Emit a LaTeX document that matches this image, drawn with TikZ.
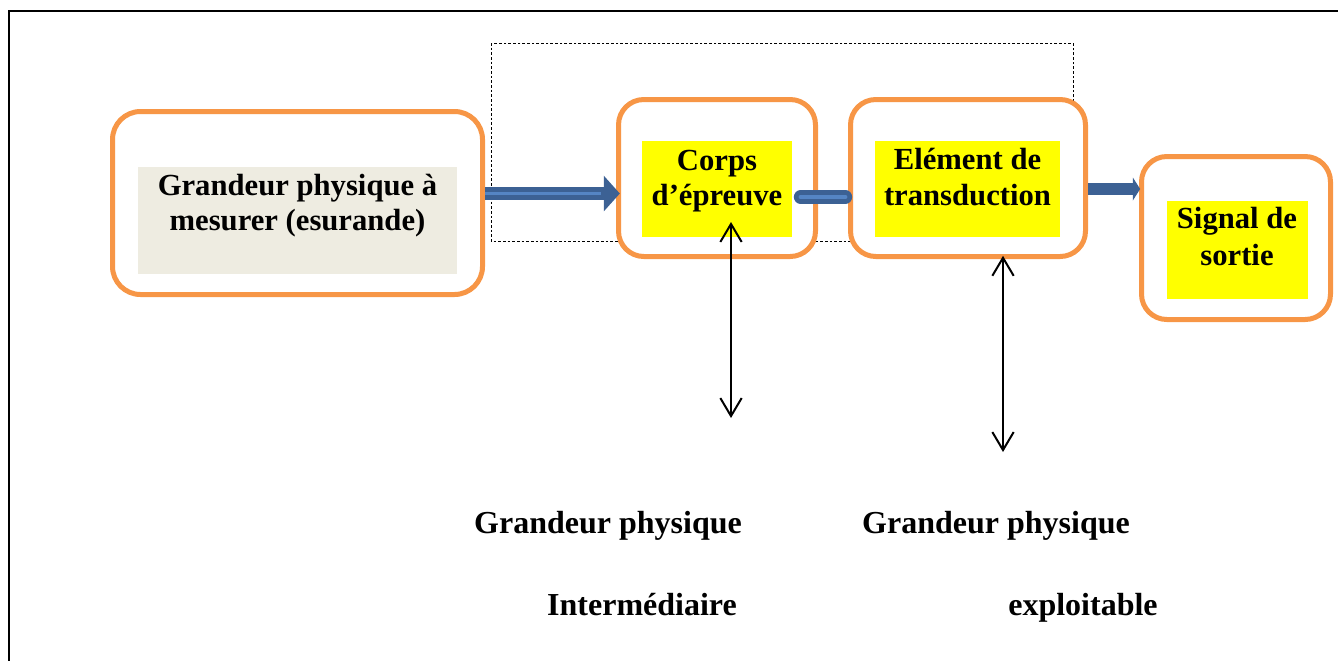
\documentclass[tikz,border=0pt]{standalone}
\usepackage{fontspec}
\setmainfont{Liberation Serif}
\usetikzlibrary{arrows.meta}
\definecolor{boxorange}{HTML}{F79646}
\definecolor{beigefill}{HTML}{EEECE1}
\definecolor{hiyellow}{HTML}{FFFF00}
\definecolor{arrowdark}{HTML}{3C6194}
\definecolor{arrowlight}{HTML}{5585C4}
\tikzset{
  obox/.style={draw=boxorange, line width=3.75pt, fill=white, rounded corners=21pt, inner sep=0pt, outer sep=0pt},
  fillbox/.style={draw=none, inner sep=0pt, outer sep=0pt},
  boxtxt/.style={anchor=base, inner sep=0pt, font=\fontsize{23}{28}\selectfont\bfseries},
  bottxt/.style={anchor=base, inner sep=0pt, font=\fontsize{24}{29}\selectfont\bfseries},
  dblarrow/.style={line width=1.5pt, {Straight Barb[length=13.5pt,width=16pt]}-{Straight Barb[length=13.5pt,width=16pt]}},
}
\begin{document}
\begin{tikzpicture}[x=0.75pt,y=-0.75pt]
\useasboundingbox (0,0) rectangle (1338,661);
% frame
\draw[line width=1.5pt] (1338,11) -- (9,11) -- (9,661);
% dashed group rectangle
\draw[line width=0.6pt, dash pattern=on 2pt off 1.5pt] (491,43) rectangle (1073,241);
% boxes
\node[obox, minimum width=277.5pt, minimum height=137.25pt] (b1) at (297.5,203) {};
\node[obox, rounded corners=19pt, minimum width=147.75pt, minimum height=117.75pt] (b2) at (717,178) {};
\node[obox, rounded corners=19pt, minimum width=176.25pt, minimum height=117.75pt] (b3) at (968,178) {};
\node[obox, rounded corners=19pt, minimum width=141.75pt, minimum height=122.25pt] (b4) at (1236,238) {};
% inner fills
\node[fillbox, fill=beigefill, minimum width=239.25pt, minimum height=80.25pt] (f1) at (297.5,220.5) {};
\node[fillbox, fill=hiyellow, minimum width=112.5pt, minimum height=72pt] (f2) at (717,189) {};
\node[fillbox, fill=hiyellow, minimum width=138.75pt, minimum height=72pt] (f3) at (967.5,189) {};
\node[fillbox, fill=hiyellow, minimum width=105.75pt, minimum height=73.5pt] (f4) at (1237.5,250) {};
% texts
\node[boxtxt] (t1a) at (297.5,195) {Grandeur physique à};
\node[boxtxt] (t1b) at (297.5,230) {mesurer (esurande)};
\node[boxtxt] (t2a) at (717,170) {Corps};
\node[boxtxt] (t2b) at (717,205) {d’épreuve};
\node[boxtxt] (t3a) at (967.5,169) {Elément de};
\node[boxtxt] (t3b) at (967.5,205) {transduction};
\node[boxtxt] (t4a) at (1237,228) {Signal de};
\node[boxtxt] (t4b) at (1237,265) {sortie};
% blue connectors
\coordinate (a1s) at ([xshift=1.9pt,yshift=7.1pt]b1.east);
\draw[arrowdark, line width=10pt, -{Triangle[length=12pt,width=26pt]}] (a1s) -- ([xshift=1pt]a1s -| b2.west);
\draw[arrowlight, line width=2.8pt] (a1s) -- ([xshift=-13pt]a1s -| b2.west);
\coordinate (a2s) at ([xshift=-11.25pt,yshift=-14.25pt]b2.east);
\coordinate (a2e) at ([xshift=-3.75pt,yshift=-14.25pt]b3.west);
\draw[arrowdark, line width=10pt, line cap=round] (a2s) -- (a2e);
\draw[arrowlight, line width=2.8pt, line cap=round] (a2s) -- (a2e);
\coordinate (a3s) at ([xshift=1.9pt,yshift=-8.25pt]b3.east);
\draw[arrowdark, line width=9pt, -{Triangle[length=5.5pt,width=17pt]}] (a3s) -- ([xshift=-1pt]a3s -| b4.west);
% black double arrows
\coordinate (cA1) at (731,222);
\coordinate (cA2) at (731,418);
\coordinate (cB1) at ([xshift=26.25pt,yshift=0.5pt]b3.south);
\coordinate (cB2) at (1003,452);
\draw[dblarrow] (cA1) -- (cA2);
\draw[dblarrow] (cB1) -- (cB1 |- cB2);
% bottom labels
\node[bottxt] (l1) at (608,533) {Grandeur physique};
\node[bottxt] (l2) at (996,533) {Grandeur physique};
\node[bottxt] (l3) at (642,615) {Intermédiaire};
\node[bottxt] (l4) at (1083,615) {exploitable};
\end{tikzpicture}
\end{document}
